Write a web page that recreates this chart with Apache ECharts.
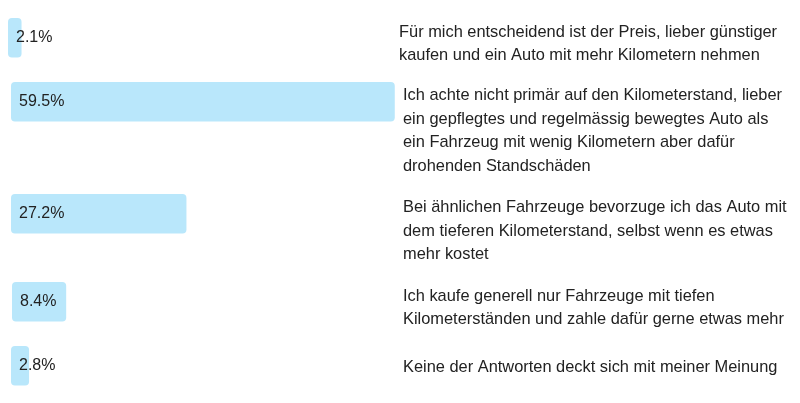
<!DOCTYPE html>
<html>
<head>
<meta charset="utf-8">
<script src="https://cdn.jsdelivr.net/npm/echarts@6/dist/echarts.min.js"></script>
<style>
html,body{margin:0;padding:0;background:#fff;}
#chart{width:800px;height:403px;}
</style>
</head>
<body>
<div id="chart"></div>
<script>
// Data
var answers = [
  "Für mich entscheidend ist der Preis, lieber günstiger\nkaufen und ein Auto mit mehr Kilometern nehmen",
  "Ich achte nicht primär auf den Kilometerstand, lieber\nein gepflegtes und regelmässig bewegtes Auto als\nein Fahrzeug mit wenig Kilometern aber dafür\ndrohenden Standschäden",
  "Bei ähnlichen Fahrzeuge bevorzuge ich das Auto mit\ndem tieferen Kilometerstand, selbst wenn es etwas\nmehr kostet",
  "Ich kaufe generell nur Fahrzeuge mit tiefen\nKilometerständen und zahle dafür gerne etwas mehr",
  "Keine der Antworten deckt sich mit meiner Meinung"
];
var shares = [2.1, 59.5, 27.2, 8.4, 2.8];

// Layout (positions only)
var rowTop = [18, 82, 194, 282, 346];
var barLeft = [8, 11, 11, 12, 11];
var textLeft = [399, 403, 403, 403, 403];
var textTop = [20.5, 84.2, 196, 284.3, 356];
var barHeight = 39.5;
var scaleWidth = 645; // pixels for 100%

var FONT = '"Liberation Sans", Arial, Helvetica, sans-serif';
var grids = [], xAxes = [], yAxes = [], series = [], graphics = [];
for (var i = 0; i < shares.length; i++) {
  grids.push({ left: barLeft[i], top: rowTop[i], width: scaleWidth, height: barHeight, containLabel: false });
  xAxes.push({ type: 'value', gridIndex: i, min: 0, max: 100, show: false });
  yAxes.push({ type: 'category', gridIndex: i, data: [answers[i]], show: false });
  series.push({
    type: 'bar', xAxisIndex: i, yAxisIndex: i,
    data: [shares[i]],
    barWidth: '100%',
    itemStyle: { color: '#b9e7fb', borderRadius: 4 },
    label: {
      show: true, position: 'insideLeft', distance: 8,
      color: '#222', fontSize: 16, fontFamily: FONT,
      formatter: function (p) { return p.value.toFixed(1) + '%'; }
    },
    silent: true
  });
  graphics.push({
    type: 'text', left: textLeft[i], top: textTop[i],
    style: { text: answers[i], fill: '#222', fontSize: 16.4, fontFamily: FONT, lineHeight: 23.5 }
  });
}

var chart = echarts.init(document.getElementById('chart'));
chart.setOption({
  animation: false,
  backgroundColor: '#fff',
  grid: grids,
  xAxis: xAxes,
  yAxis: yAxes,
  series: series,
  graphic: graphics
});
</script>
</body>
</html>
